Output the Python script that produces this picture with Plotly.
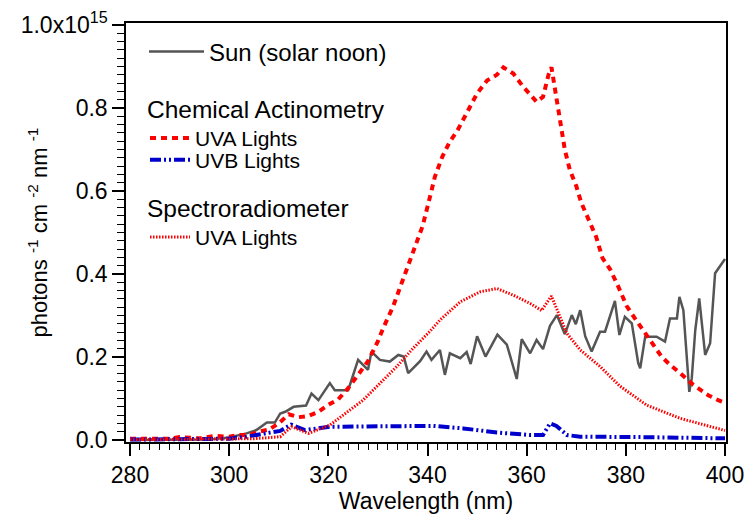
import plotly.graph_objects as go

# ---------------- data (photons cm^-2 nm^-1, in units of 1e15) ----------------
sun_wl = [280, 290, 296, 300, 303.5, 305.5, 307.6, 309.2, 310.3, 311.3, 313, 315.5, 316.6, 318,
          320.3, 321.3, 324, 326, 328, 328.7, 330.4, 332.4, 334.1, 335.2, 336.1, 338.5, 339.8,
          340.8, 342.5, 343.5, 344.5, 346.6, 347.9, 348.7, 350, 351.7, 354.1, 356, 358, 359,
          360.7, 362, 363.3, 364.7, 366.1, 367.7, 369.1, 369.9, 370.8, 371.8, 373.1, 374.8,
          375.8, 377.8, 378.7, 379.8, 381.2, 382.5, 382.9, 383.9, 386.2, 387.9, 388.9, 390.3,
          390.8, 391.6, 392.8, 393.3, 394, 394.8, 396, 397, 398, 400]
sun_val = [0.0, 0.0, 0.001, 0.006, 0.016, 0.024, 0.042, 0.042, 0.064, 0.068, 0.080, 0.083, 0.112,
           0.096, 0.137, 0.120, 0.120, 0.193, 0.169, 0.213, 0.193, 0.189, 0.205, 0.201, 0.161,
           0.190, 0.213, 0.193, 0.217, 0.157, 0.209, 0.197, 0.212, 0.183, 0.250, 0.201, 0.254,
           0.230, 0.147, 0.243, 0.209, 0.241, 0.219, 0.275, 0.301, 0.255, 0.301, 0.279, 0.313,
           0.250, 0.213, 0.261, 0.261, 0.335, 0.253, 0.297, 0.281, 0.185, 0.173, 0.249, 0.249,
           0.237, 0.293, 0.293, 0.345, 0.313, 0.116, 0.149, 0.265, 0.341, 0.205, 0.233, 0.402,
           0.436]

chem_uva_wl = [280, 284, 288, 290, 294, 297, 300, 302, 304, 306, 308, 310, 312, 314, 316, 318,
               320, 322, 324, 326, 328, 330, 331, 333, 335, 337, 339, 340.5, 341.5, 343, 344.5,
               346, 348, 350, 352, 354, 355.3, 357.3, 359.3, 362, 363.3, 364.4, 365, 365.7, 366.4,
               367.1, 367.7, 368.7, 370, 371, 372.4, 374, 375.3, 376.8, 378.5, 380.2, 382, 384,
               385.5, 387.2, 389, 390.6, 393.6, 396.6, 398.6, 400]
chem_uva_val = [0.003, 0.004, 0.003, 0.007, 0.004, 0.010, 0.008, 0.012, 0.012, 0.020, 0.025,
                0.040, 0.062, 0.055, 0.058, 0.068, 0.085, 0.098, 0.125, 0.157, 0.190, 0.238,
                0.268, 0.320, 0.383, 0.448, 0.515, 0.586, 0.635, 0.683, 0.719, 0.745, 0.791,
                0.835, 0.866, 0.880, 0.898, 0.883, 0.851, 0.815, 0.827, 0.880, 0.898, 0.843,
                0.795, 0.739, 0.699, 0.651, 0.612, 0.572, 0.532, 0.490, 0.438, 0.412, 0.369,
                0.322, 0.290, 0.255, 0.232, 0.201, 0.180, 0.165, 0.133, 0.108, 0.096, 0.090]

chem_uvb_wl = [280, 290, 300, 303.5, 308.2, 310.3, 312.5, 315.3, 320.3, 326, 333.8, 341.2,
               347.2, 354, 360.7, 363.3, 364.7, 366, 368.1, 370.8, 383, 390, 400]
chem_uvb_val = [0.001, 0.001, 0.003, 0.008, 0.016, 0.022, 0.037, 0.024, 0.032, 0.033, 0.034,
                0.034, 0.028, 0.018, 0.012, 0.012, 0.040, 0.034, 0.012, 0.008, 0.007, 0.005,
                0.004]

spec_uva_wl = [280, 290, 300, 305, 310.3, 312.6, 316, 320.3, 327, 330.4, 333.8, 337.1, 340.5,
               342.5, 346.6, 350.6, 354, 357.3, 360.7, 363, 365, 366.7, 368.1, 370.8, 374.8,
               378.8, 384.2, 391, 396.3, 400]
spec_uva_val = [0.001, 0.002, 0.002, 0.003, 0.008, 0.032, 0.016, 0.036, 0.096, 0.137, 0.177,
                0.221, 0.262, 0.289, 0.333, 0.357, 0.365, 0.349, 0.329, 0.312, 0.347, 0.297,
                0.257, 0.217, 0.177, 0.130, 0.084, 0.052, 0.036, 0.023]

ytick_vals = [0.0, 0.2, 0.4, 0.6, 0.8, 1.0]
ytick_text = ["0.0", "0.2", "0.4", "0.6", "0.8", "1.0x10<sup>15</sup>"]
xtick_vals = [280, 300, 320, 340, 360, 380, 400]

FONT = "Liberation Sans, Arial, sans-serif"

fig = go.Figure()
fig.add_trace(go.Scatter(x=sun_wl, y=sun_val, mode="lines", name="Sun (solar noon)",
                         line=dict(color="#555555", width=2.5), legend="legend"))
fig.add_trace(go.Scatter(x=chem_uva_wl, y=chem_uva_val, mode="lines", name="UVA Lights",
                         line=dict(color="#ff0000", width=4, dash="6px,5px"), legend="legend2"))
fig.add_trace(go.Scatter(x=chem_uvb_wl, y=chem_uvb_val, mode="lines", name="UVB Lights",
                         line=dict(color="#0000cc", width=4, dash="11px,3px,2px,3px,2px,3px"),
                         legend="legend3"))
fig.add_trace(go.Scatter(x=spec_uva_wl, y=spec_uva_val, mode="lines", name="UVA Lights",
                         line=dict(color="#ff0000", width=3, dash="1.5px,1.5px"), legend="legend4"))

def px_x(p):
    return (p - 126) / 600.0

def px_y(p):
    return (442 - p) / 419.0

common = dict(bgcolor="rgba(0,0,0,0)", borderwidth=0, xanchor="left", tracegroupgap=0)

fig.update_layout(
    width=746, height=520,
    margin=dict(l=126, r=20, t=23, b=78, autoexpand=False),
    paper_bgcolor="white", plot_bgcolor="white",
    showlegend=True,
    font=dict(family=FONT, size=22, color="black"),
    legend=dict(x=px_x(144), y=px_y(52), yanchor="middle", itemwidth=55,
                font=dict(family=FONT, size=24, color="black"), **common),
    legend2=dict(x=px_x(145), y=px_y(86), yanchor="top", itemwidth=40,
                 title=dict(text="Chemical Actinometry", font=dict(family=FONT, size=24.5, color="black")),
                 font=dict(family=FONT, size=21, color="black"), **common),
    legend3=dict(x=px_x(145), y=px_y(160), yanchor="middle", itemwidth=40,
                 font=dict(family=FONT, size=21, color="black"), **common),
    legend4=dict(x=px_x(145), y=px_y(185), yanchor="top", itemwidth=40,
                 title=dict(text="Spectroradiometer", font=dict(family=FONT, size=24.5, color="black")),
                 font=dict(family=FONT, size=21, color="black"), **common),
    annotations=[dict(text="photons <sup>-1</sup> cm <sup>-2</sup> nm <sup>-1</sup>",
                      xref="paper", yref="paper", x=px_x(37), y=0.5, textangle=-90,
                      xanchor="center", yanchor="middle", showarrow=False,
                      font=dict(family=FONT, size=22, color="black"))],
)

fig.update_xaxes(
    range=[279.19, 400.2], tickmode="array", tickvals=xtick_vals, automargin=False,
    ticks="outside", ticklen=12, tickwidth=1.5, tickcolor="black",
    minor=dict(dtick=2, tick0=280, ticks="outside", ticklen=6, tickwidth=1, tickcolor="black"),
    showline=True, linewidth=1.5, linecolor="black", mirror=True,
    showgrid=False, zeroline=False,
    tickfont=dict(family=FONT, size=23),
    title=dict(text="Wavelength (nm)", font=dict(family=FONT, size=23), standoff=4),
)
fig.update_yaxes(
    range=[-0.0048, 1.0048], tickmode="array", tickvals=ytick_vals, ticktext=ytick_text,
    automargin=False,
    ticks="outside", ticklen=12, tickwidth=1.5, tickcolor="black",
    minor=dict(dtick=0.02, tick0=0, ticks="outside", ticklen=7, tickwidth=1, tickcolor="black"),
    showline=True, linewidth=1.5, linecolor="black", mirror=True,
    showgrid=False, zeroline=False,
    tickfont=dict(family=FONT, size=23),
)

fig.write_html("out.html")
